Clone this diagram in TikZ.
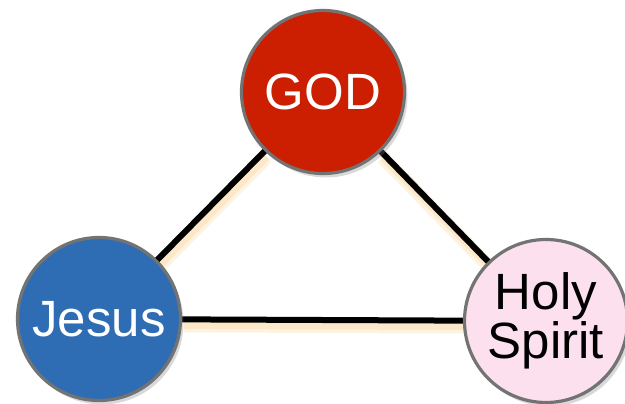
\documentclass[tikz,border=0pt]{standalone}
\usepackage{fontspec}
\setmainfont{Liberation Sans}
\usetikzlibrary{backgrounds, shadows}
\definecolor{godred}{RGB}{204,30,0}
\definecolor{jesusblue}{RGB}{46,109,180}
\definecolor{spiritpink}{RGB}{252,224,238}
\definecolor{rimgray}{RGB}{115,115,115}
\definecolor{glow}{RGB}{252,232,200}

\begin{document}
\begin{tikzpicture}[
                x=1pt, y=-1pt,
                person/.style={draw=rimgray, line width=3.2pt, circle, minimum size=163pt, inner sep=0pt, align=center, font=\fontsize{51}{45}\selectfont, drop shadow={opacity=0.3, shadow xshift=3pt, shadow yshift=-4pt}},
                link/.style={line width=6pt, black},
                linkglow/.style={line width=14pt, glow, opacity=0.5, transform canvas={shift={(2pt,-6pt)}}},
                linkglowcore/.style={line width=7pt, glow, transform canvas={shift={(2pt,-6pt)}}}
            ]
            \useasboundingbox (0,0) rectangle (625,404);
            % Nodes (triangle)
            \node[person, fill=godred, text=white] (god) at (323,92) {GOD};
            \node[person, fill=jesusblue, text=white] (jesus) at (99,319) {Jesus};
            \node[person, fill=spiritpink, text=black] (spirit) at (546,321) {Holy\\Spirit};

            % Edges
            \begin{scope}[on background layer]
            \draw[linkglow] (god) -- (jesus);
            \draw[linkglow] (god) -- (spirit);
            \draw[linkglow] (jesus) -- (spirit);
            \draw[linkglowcore] (god) -- (jesus);
            \draw[linkglowcore] (god) -- (spirit);
            \draw[linkglowcore] (jesus) -- (spirit);
            \draw[link] (god.center) -- (jesus.center);
            \draw[link] (god.center) -- (spirit.center);
            \draw[link] (jesus.center) -- (spirit.center);
            \end{scope}
\end{tikzpicture}
\end{document}
